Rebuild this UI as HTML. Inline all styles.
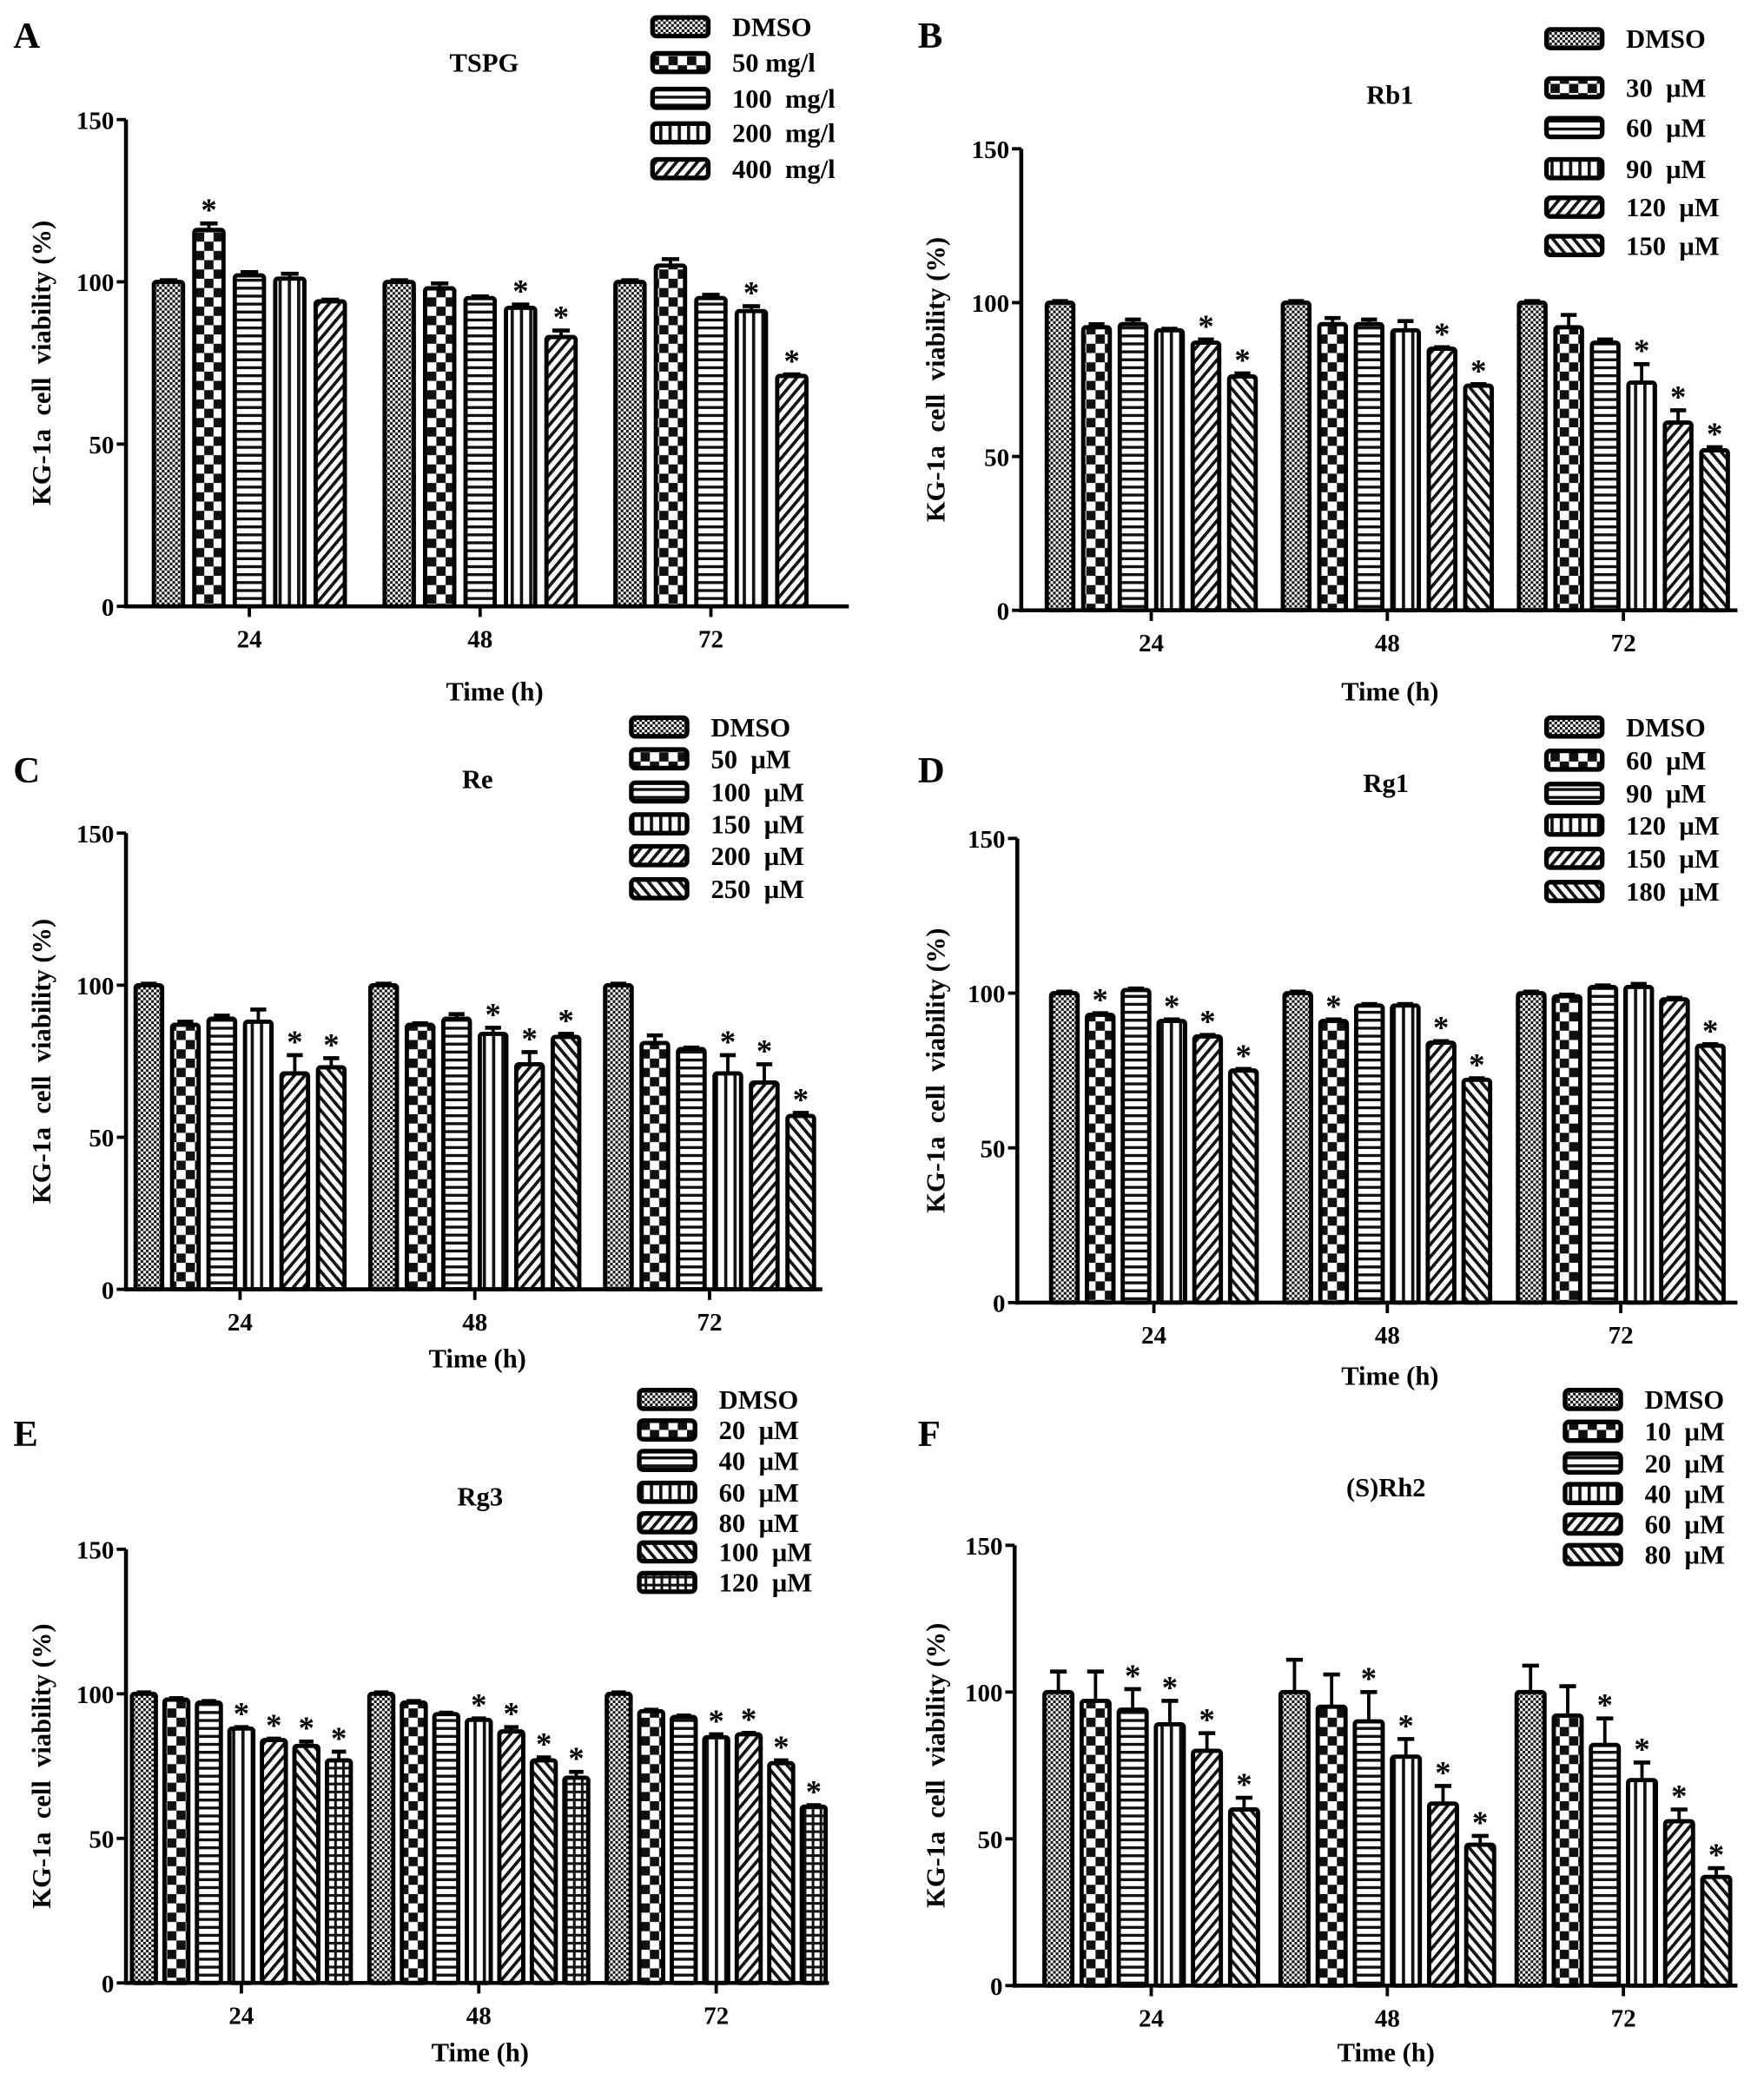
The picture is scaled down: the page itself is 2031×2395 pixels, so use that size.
<!DOCTYPE html>
<html><head><meta charset="utf-8"><style>
html,body{margin:0;padding:0;background:#fff;}
svg{display:block;font-family:"Liberation Serif",serif;font-weight:bold;}
</style></head><body>
<svg id="fig" width="2031" height="2395" viewBox="0 0 1330 1568" xmlns="http://www.w3.org/2000/svg">
<defs>
<pattern id="p0" patternUnits="userSpaceOnUse" width="4" height="4"><rect width="4" height="4" fill="#fff"/><rect width="2" height="2" fill="#111"/><rect x="2" y="2" width="2" height="2" fill="#111"/></pattern>
<pattern id="p1" patternUnits="userSpaceOnUse" width="14" height="14"><rect width="14" height="14" fill="#fff"/><rect width="7" height="7" fill="#111"/><rect x="7" y="7" width="7" height="7" fill="#111"/></pattern>
<pattern id="p2" patternUnits="userSpaceOnUse" width="6" height="6"><rect width="6" height="6" fill="#fff"/><rect y="0" width="6" height="2.2" fill="#111"/></pattern>
<pattern id="p3" patternUnits="userSpaceOnUse" width="7" height="7"><rect width="7" height="7" fill="#fff"/><rect x="0" width="2.4" height="7" fill="#111"/></pattern>
<pattern id="p4" patternUnits="userSpaceOnUse" width="6" height="6" patternTransform="rotate(40)"><rect width="6" height="6" fill="#fff"/><rect width="2.4" height="6" fill="#111"/></pattern>
<pattern id="p5" patternUnits="userSpaceOnUse" width="6" height="6" patternTransform="rotate(-40)"><rect width="6" height="6" fill="#fff"/><rect width="2.4" height="6" fill="#111"/></pattern>
<pattern id="p6" patternUnits="userSpaceOnUse" width="6" height="6"><rect width="6" height="6" fill="#fff"/><rect width="2" height="6" fill="#111"/><rect width="6" height="2" fill="#111"/></pattern>
</defs>
</svg>
<script>
const NS='http://www.w3.org/2000/svg';
const svg=document.getElementById('fig');
const groupLabels=['24','48','72'];
const yTicks=[0,50,100,150];

const seriesA=['DMSO','50 mg/l','100  mg/l','200  mg/l','400  mg/l'];
const valsA=[[100,116,102,101,94],[100,98,95,92,83],[100,105,95,91,71]];
const errA=[[0.5,2,1,1.5,0.5],[0.5,1.5,0.5,1,2],[0.5,2,1,1.5,0.5]];
const starsA=[[0,1,0,0,0],[0,0,0,1,1],[0,0,0,1,1]];

const seriesB=['DMSO','30  µM','60  µM','90  µM','120  µM','150  µM'];
const valsB=[[100,92,93,91,87,76],[100,93,93,91,85,73],[100,92,87,74,61,52]];
const errB=[[0.5,1,1.5,0.5,1,1],[0.5,2,1.5,3,0.5,0.5],[0.5,4,1,6,4,1]];
const starsB=[[0,0,0,0,1,1],[0,0,0,0,1,1],[0,0,0,1,1,1]];

const seriesC=['DMSO','50  µM','100  µM','150  µM','200  µM','250  µM'];
const valsC=[[100,87,89,88,71,73],[100,87,89,84,74,83],[100,81,79,71,68,57]];
const errC=[[0.5,1,1,4,6,3],[0.5,0.5,1.5,2,4,1],[0.5,2.5,0.5,6,6,1]];
const starsC=[[0,0,0,0,1,1],[0,0,0,1,1,1],[0,0,0,1,1,1]];

const seriesD=['DMSO','60  µM','90  µM','120  µM','150  µM','180  µM'];
const valsD=[[100,93,101,91,86,75],[100,91,96,96,84,72],[100,99,102,102,98,83]];
const errD=[[0.5,0.5,0.5,0.5,0.5,0.5],[0.5,0.5,0.5,0.5,0.5,0.5],[0.5,0.5,0.5,1,0.5,0.5]];
const starsD=[[0,1,0,1,1,1],[0,1,0,0,1,1],[0,0,0,0,0,1]];

const seriesE=['DMSO','20  µM','40  µM','60  µM','80  µM','100  µM','120  µM'];
const valsE=[[100,98,97,88,84,82,77],[100,97,93,91,87,77,71],[100,94,92,85,86,76,61]];
const errE=[[0.5,0.5,0.5,0.5,0.5,1.5,3],[0.5,0.5,0.5,0.5,1.5,1,2],[0.5,0.5,0.5,1,0.5,1,0.5]];
const starsE=[[0,0,0,1,1,1,1],[0,0,0,1,1,1,1],[0,0,0,1,1,1,1]];

const seriesF=['DMSO','10  µM','20  µM','40  µM','60  µM','80  µM'];
const valsF=[[100,97,94,89,80,60],[100,95,90,78,62,48],[100,92,82,70,56,37]];
const errF=[[7,10,7,8,6,4],[11,11,10,6,6,3],[9,10,9,6,4,3]];
const starsF=[[0,0,1,1,1,1],[0,0,1,1,1,1],[0,0,1,1,1,1]];

function el(tag,attrs,parent,text){const e=document.createElementNS(NS,tag);for(const k in attrs)e.setAttribute(k,attrs[k]);if(text!==undefined)e.textContent=text;(parent||svg).appendChild(e);return e;}

function panel(cfg){
  const g=el('g',{});
  
  
  const y=v=>cfg.y0-(v/150)*(cfg.y0-cfg.y150);
  const n=cfg.series.length;
  const gc=i=>cfg.c0+i*cfg.gap;
  const L=el('text',{x:cfg.lx,y:cfg.ly,'font-size':28},g,cfg.letter);
  
  
  const T=el('text',{x:cfg.tx,y:cfg.ty,'font-size':20,'text-anchor':'middle'},g,cfg.title);
  
  
  cfg.vals.forEach((grp,gi)=>{
    grp.forEach((v,si)=>{
      const cx=gc(gi)+(si-(n-1)/2)*cfg.step;
      const top=y(v), e=cfg.err[gi][si];
      const eb=el('line',{x1:cx,x2:cx,y1:top,y2:y(v+e),stroke:'#000','stroke-width':2.5},g);
      
      
      const cap=el('line',{x1:cx-cfg.bw*0.3,x2:cx+cfg.bw*0.3,y1:y(v+e),y2:y(v+e),stroke:'#000','stroke-width':3},g);
      
      
      const r=el('rect',{x:cx-cfg.bw/2,y:top,width:cfg.bw,height:cfg.y0-top,fill:'url(#p'+cfg.pat[si]+')',stroke:'#000','stroke-width':3.2,rx:2},g);
      
      
      if(cfg.stars[gi][si]){
        const s=el('text',{x:cx,y:y(v+e)-2,'font-size':24,'text-anchor':'middle'},g,'*');
        
        
      }
    });
  });
  const ya=el('line',{x1:cfg.ax,x2:cfg.ax,y1:cfg.y150,y2:cfg.y0+1.5,stroke:'#000','stroke-width':3},g);
  
  
  const xa=el('line',{x1:cfg.ax-1.5,x2:cfg.xend,y1:cfg.y0,y2:cfg.y0,stroke:'#000','stroke-width':3},g);
  
  
  yTicks.forEach(t=>{
    el('line',{x1:cfg.ax-7,x2:cfg.ax,y1:y(t),y2:y(t),stroke:'#000','stroke-width':2.5},g);
    const tl=el('text',{x:cfg.ax-9,y:y(t)+7,'font-size':19,'text-anchor':'end'},g,String(t));
    
    
  });
  groupLabels.forEach((lab,gi)=>{
    el('line',{x1:gc(gi),x2:gc(gi),y1:cfg.y0,y2:cfg.y0+8,stroke:'#000','stroke-width':2.5},g);
    const tl=el('text',{x:gc(gi),y:cfg.y0+31,'font-size':19,'text-anchor':'middle'},g,lab);
    
    
  });
  const xt=el('text',{x:cfg.xtx,y:cfg.xty,'font-size':20,'text-anchor':'middle'},g,'Time (h)');
  
  
  const ym=(cfg.y0+cfg.y150)/2;
  const yt=el('text',{x:cfg.ytx,y:ym,'font-size':20,'text-anchor':'middle','xml:space':'preserve',transform:'rotate(-90 '+cfg.ytx+' '+ym+')'},g,'KG-1a  cell  viability (%)');
  yt.style.whiteSpace='pre';
  
  
  cfg.series.forEach((s,si)=>{
    const ry=cfg.legY[si];
    const lr=el('rect',{x:cfg.legX,y:ry-7,width:42,height:14,rx:3,fill:'url(#p'+cfg.pat[si]+')',stroke:'#000','stroke-width':3.5},g);
    
    
    const lt=el('text',{x:cfg.legX+60,y:ry+7,'font-size':20,'xml:space':'preserve'},g,s);
    
    
    lt.style.whiteSpace='pre';
  });
}

panel({letter:'A',lx:10,ly:36,title:'TSPG',tx:365,ty:54,series:seriesA,vals:valsA,err:errA,stars:starsA,pat:[0,1,2,3,4],
  ax:95,y0:457,y150:90,c0:188,gap:174,step:30.5,bw:22,xend:640,xtx:373,xty:528,ytx:38,legX:492,legY:[20,47,74,100,127]});
panel({letter:'B',lx:692,ly:36,title:'Rb1',tx:1048,ty:78,series:seriesB,vals:valsB,err:errB,stars:starsB,pat:[0,1,2,3,4,5],
  ax:770,y0:460,y150:112,c0:868,gap:178,step:27.5,bw:20,xend:1310,xtx:1048,xty:528,ytx:712,legX:1166,legY:[29,66,96,127,156,185]});
panel({letter:'C',lx:10,ly:590,title:'Re',tx:360,ty:594,series:seriesC,vals:valsC,err:errC,stars:starsC,pat:[0,1,2,3,4,5],
  ax:95,y0:972,y150:628,c0:181,gap:177,step:27.5,bw:20,xend:620,xtx:360,xty:1031,ytx:38,legX:476,legY:[548,572,597,621,645,670]});
panel({letter:'D',lx:692,ly:590,title:'Rg1',tx:1045,ty:597,series:seriesD,vals:valsD,err:errD,stars:starsD,pat:[0,1,2,3,4,5],
  ax:767,y0:982,y150:632,c0:870,gap:176,step:27,bw:20,xend:1310,xtx:1048,xty:1044,ytx:712,legX:1166,legY:[548,573,598,622,647,672]});
panel({letter:'E',lx:10,ly:1090,title:'Rg3',tx:362,ty:1135,series:seriesE,vals:valsE,err:errE,stars:starsE,pat:[0,1,2,3,4,5,6],
  ax:95,y0:1495,y150:1168,c0:182,gap:179,step:24.5,bw:18,xend:625,xtx:362,xty:1554,ytx:38,legX:482,legY:[1055,1078,1101,1125,1148,1170,1193]});
panel({letter:'F',lx:692,ly:1090,title:'(S)Rh2',tx:1045,ty:1128,series:seriesF,vals:valsF,err:errF,stars:starsF,pat:[0,1,2,3,4,5],
  ax:765,y0:1497,y150:1165,c0:868,gap:178,step:28,bw:21,xend:1310,xtx:1045,xty:1554,ytx:712,legX:1180,legY:[1055,1079,1103,1126,1149,1172]});
</script>
</body></html>
